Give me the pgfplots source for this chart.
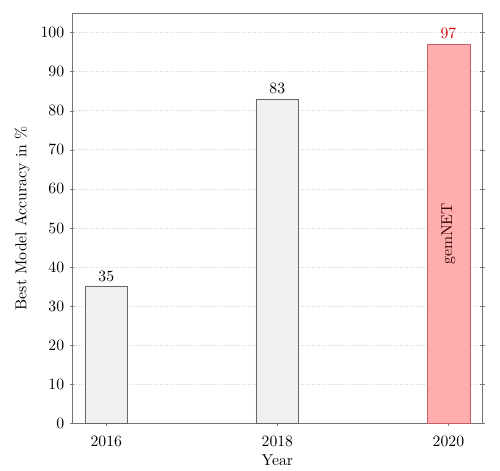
\documentclass[border=0pt]{standalone}
\usepackage{pgfplots}
\pgfplotsset{compat=1.18}
\definecolor{gemedge}{RGB}{200,90,105}
\begin{document}
\begin{tikzpicture}
\begin{axis}[
  scale only axis,
  width=261pt, height=261pt,
  xmin=2015.6, xmax=2020.4,
  ymin=0, ymax=105,
  ybar,
  bar width=0.5,
  bar shift=0pt,
  xtick={2016,2018,2020},
  xticklabels={2016,2018,2020},
  ytick={0,10,...,100},
  xtick pos=bottom,
  ytick pos=both,
  tick align=center,
  major tick length=3pt,
  axis line style={black!55},
  tick style={black!50},
  ymajorgrids,
  grid style={densely dotted, black!15},
  xticklabel style={yshift=-3pt},
  xlabel={Year},
  ylabel={Best Model Accuracy in \%},
  xlabel style={yshift=2pt},
  nodes near coords,
]
\addplot[bar shift=0pt, fill=black!6, draw=black!60] coordinates {(2016,35) (2018,83)};
\addplot[bar shift=0pt, fill=red!32, draw=gemedge, nodes near coords style={text=red!85!black}] coordinates {(2020,97)};
\node[rotate=90, text=black!80!red] at (axis cs:2020,48.5) {gemNET};
\end{axis}
\path (current axis.north east) ++(11pt,0) coordinate (r);
\path (r) -- ++(0,-1pt);
\path (current bounding box.north west) ++(-6pt,8pt) coordinate (l);
\path (l) -- ++(1pt,0);
\end{tikzpicture}
\end{document}
